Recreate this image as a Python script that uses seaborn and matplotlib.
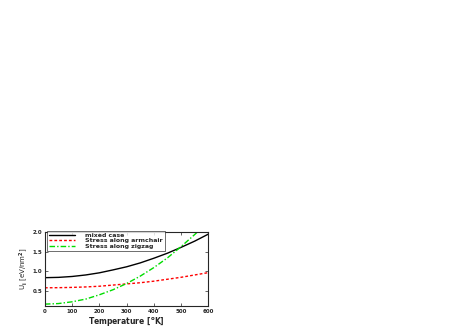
import numpy as np
import pandas as pd
import seaborn as sns
import matplotlib.pyplot as plt

# temperature grid [K]
temperature = [0, 50, 100, 150, 200, 250, 300, 350, 400, 450, 500, 550, 600]
mixed_case = [0.83, 0.838, 0.861, 0.90, 0.955, 1.03, 1.11, 1.21, 1.33, 1.46, 1.61, 1.77, 1.95]
armchair = [0.57, 0.573, 0.58, 0.592, 0.61, 0.64, 0.67, 0.70, 0.74, 0.79, 0.84, 0.90, 0.96]
zigzag = [0.15, 0.165, 0.21, 0.28, 0.39, 0.52, 0.68, 0.87, 1.09, 1.34, 1.63, 1.94, 2.27]

labels = ["mixed case", "Stress along armchair", "Stress along zigzag"]

df = pd.DataFrame({"T": temperature, labels[0]: mixed_case,
                   labels[1]: armchair, labels[2]: zigzag})
long = df.melt(id_vars="T", var_name="case", value_name="U")

sns.set_style("ticks")
plt.rcParams['font.family'] = ['DejaVu Sans']
plt.rcParams['font.weight'] = 'bold'
plt.rcParams['mathtext.default'] = 'bf'

fig = plt.figure(figsize=(4.63, 3.27), dpi=100)
ax = fig.add_axes([0.097, 0.064, 0.353, 0.226])

palette = {labels[0]: "black", labels[1]: "red", labels[2]: "#00dd00"}
sns.lineplot(data=long, x="T", y="U", hue="case", palette=palette, ax=ax,
             linewidth=1.0, legend=True)
styles = ["-", (0, (2, 1.5)), (0, (4, 1.5, 1, 1.5))]
for line, st in zip(ax.get_lines(), styles):
    line.set_linestyle(st)

ax.set_xlim(0, 600)
ax.set_ylim(0.1, 2.0)
ax.set_xticks([0, 100, 200, 300, 400, 500, 600])
ax.set_yticks([0.5, 1.0, 1.5, 2.0])
ax.set_yticklabels(["0.5", "1.0", "1.5", "2.0"])
ax.tick_params(direction="in", top=True, right=True, labelsize=4, length=2, width=0.5, pad=2)
for sp in ax.spines.values():
    sp.set_linewidth(0.8)
ax.set_xlabel("Temperature [$^{o}$K]", fontsize=5.5, fontweight="bold", labelpad=1)
ax.set_ylabel("U$_{i}$ [eV/nm$^{2}$]", fontsize=5, labelpad=2)

leg = ax.legend(loc="upper left", bbox_to_anchor=(0.015, 1.02), fontsize=4.5, frameon=True,
                fancybox=False, edgecolor="black", borderpad=0.3, handlelength=4.2,
                handletextpad=1.6, labelspacing=0.0, borderaxespad=0)
leg.get_frame().set_linewidth(0.5)
for ln, st in zip(leg.get_lines(), styles):
    ln.set_linestyle(st)

fig.savefig("out.png", dpi=100)
